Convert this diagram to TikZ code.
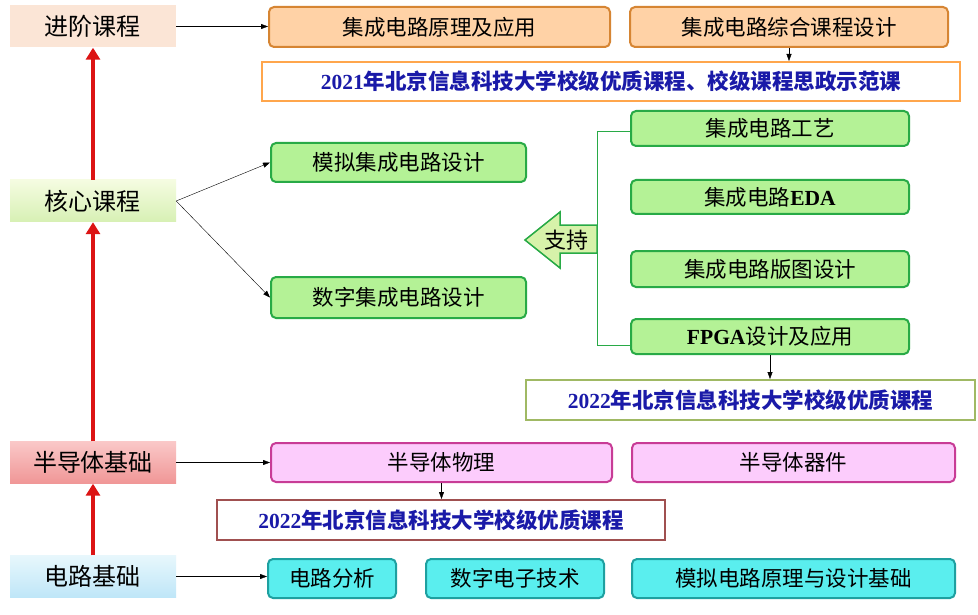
\documentclass[tikz,border=0pt]{standalone}
\usepackage{fontspec}
\setmainfont{Liberation Serif}
\newfontfamily\cjk{Noto Sans CJK SC}
\newfontfamily\lat{Liberation Serif}
\usetikzlibrary{arrows.meta}
\definecolor{blueT}{HTML}{1A1AA8}
\definecolor{gline}{RGB}{40,170,70}
\begin{document}
\begin{tikzpicture}[x=1pt,y=-1pt,
  lvl/.style={minimum height=42pt,inner sep=0pt,font=\cjk\fontsize{24}{26}\selectfont},
  box/.style={rounded corners=5pt,line width=2pt,inner sep=0pt,font=\cjk\fontsize{21.5}{24}\selectfont},
  orng/.style={box,fill=orange!35!white,draw=orange!80!black!80},
  grn/.style={box,fill={rgb,255:red,180;green,242;blue,150},draw=gline},
  pnk/.style={box,fill={rgb,255:red,252;green,204;blue,252},draw={rgb,255:red,200;green,60;blue,150}},
  cyn/.style={box,fill={rgb,255:red,90;green,238;blue,238},draw={rgb,255:red,30;green,160;blue,160}},
  note/.style={line width=2pt,fill=white,inner sep=0pt,text=blueT,font=\bfseries\fontsize{21.5}{24}\selectfont},
  red/.style={line width=3.5pt,draw={rgb,255:red,220;green,20;blue,20},-{Triangle[length=12pt,width=14pt]}},
  con/.style={-{Triangle[length=7pt,width=5pt]},thin,black}]
\useasboundingbox (0,0) rectangle (978,615);
\fill[white] (0,0) rectangle (978,615);
% left levels
\node[lvl,minimum width=166pt,fill={rgb,255:red,251;green,229;blue,214}] (adv) at (93,26.5) {进阶课程};
\node[lvl,minimum width=166pt,top color={rgb,255:red,245;green,252;blue,225},bottom color={rgb,255:red,215;green,240;blue,180}] (core) at (93,201) {核心课程};
\node[lvl,minimum width=166pt,top color={rgb,255:red,250;green,200;blue,200},bottom color={rgb,255:red,240;green,150;blue,150}] (semi) at (93,462.5) {半导体基础};
\node[lvl,minimum width=166pt,top color={rgb,255:red,232;green,247;blue,252},bottom color={rgb,255:red,190;green,230;blue,248}] (circ) at (93,576.5) {电路基础};
\draw[red] (circ.north) -- (semi.south);
\draw[red] (semi.north) -- (core.south);
\draw[red] (core.north) -- (adv.south);
% advanced
\node[orng,minimum width=341pt,minimum height=40pt] (a1) at (439.5,27) {集成电路原理及应用};
\node[orng,minimum width=318pt,minimum height=40pt] (a2) at (789,27) {集成电路综合课程设计};
\node[note,draw=orange!70!white,minimum width=698pt,minimum height=39pt] (n1) at (611,81.5) {2021{\cjk 年北京信息科技大学校级优质课程、校级课程思政示范课}};
\draw[con] (adv.east) -- (adv.east-|a1.west);
\draw[con] (a2.south) -- (a2.south|-n1.north);
% core
\node[grn,minimum width=255pt,minimum height=39pt] (c1) at (398.5,162.5) {模拟集成电路设计};
\node[grn,minimum width=255pt,minimum height=41pt] (c2) at (398.5,297.5) {数字集成电路设计};
\draw[con] (core.east) -- (c1.west);
\draw[con] (core.east) -- (c2.west);
\node[grn,minimum width=278pt,minimum height=35pt] (s1) at (770,128.5) {集成电路工艺};
\node[grn,minimum width=278pt,minimum height=34pt] (s2) at (770,197) {集成电路{\lat\bfseries EDA}};
\node[grn,minimum width=278pt,minimum height=36pt] (s3) at (770,269) {集成电路版图设计};
\node[grn,minimum width=278pt,minimum height=35pt] (s4) at (770,336.5) {{\lat\bfseries FPGA}设计及应用};
\node[note,draw={rgb,255:red,160;green,185;blue,100},minimum width=449pt,minimum height=40pt] (n2) at (750.5,400) {2022{\cjk 年北京信息科技大学校级优质课程}};
\draw[con] (s4.south) -- (s4.south|-n2.north);
\coordinate (bt) at (597,131); \coordinate (bb) at (597,345);
\draw[thin,draw=gline] (s1.west|-bt) -- (bt) -- (bb) -- (s4.west|-bb);
\draw[line width=1.5pt,draw=gline,fill={rgb,255:red,215;green,242;blue,170}]
  (597,225) -- (560,225) -- (560,212) -- (525,240) -- (560,268) -- (560,253) -- (597,253) -- cycle;
\node[font=\cjk\fontsize{22}{24}\selectfont] (zc) at (566,240) {支持};
% semiconductor
\node[pnk,minimum width=341pt,minimum height=39pt] (p1) at (441.5,462.5) {半导体物理};
\node[pnk,minimum width=323pt,minimum height=39pt] (p2) at (793.5,462.5) {半导体器件};
\node[note,draw={rgb,255:red,160;green,80;blue,80},minimum width=448pt,minimum height=40pt] (n3) at (441,520) {2022{\cjk 年北京信息科技大学校级优质课程}};
\draw[con] (semi.east) -- (semi.east-|p1.west);
\draw[con] (p1.south) -- (p1.south|-n3.north);
% circuit
\node[cyn,minimum width=128pt,minimum height=39pt] (e1) at (332,578.5) {电路分析};
\node[cyn,minimum width=178pt,minimum height=39pt] (e2) at (515,578.5) {数字电子技术};
\node[cyn,minimum width=323pt,minimum height=39pt] (e3) at (793.5,578.5) {模拟电路原理与设计基础};
\draw[con] (circ.east) -- (circ.east-|e1.west);
\end{tikzpicture}
\end{document}
